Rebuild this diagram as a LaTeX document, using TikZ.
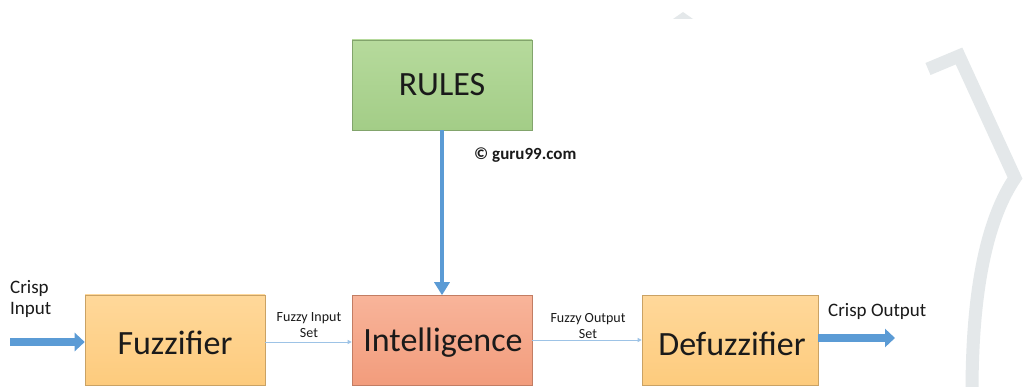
\documentclass[tikz,border=0pt]{standalone}
\usepackage{fontspec}
\setmainfont{Carlito}
\usetikzlibrary{arrows.meta}
\definecolor{arrowblue}{HTML}{5B9BD5}
\definecolor{thinblue}{HTML}{9DC3E6}
\definecolor{txt}{HTML}{1A1A1A}
\definecolor{wm}{HTML}{E4E8EA}
\definecolor{greentop}{HTML}{B6DA9C}
\definecolor{greenbot}{HTML}{A3CD87}
\definecolor{orangetop}{HTML}{FFD89A}
\definecolor{orangebot}{HTML}{FDCB7D}
\definecolor{salmontop}{HTML}{F8B49A}
\definecolor{salmonbot}{HTML}{F29C7C}
\tikzset{
  block/.style={draw=#1!80!black, line width=0.6pt, inner sep=0pt,
    minimum width=180pt, minimum height=90pt},
  greenblock/.style={block=greenbot, top color=greentop, bottom color=greenbot},
  orangeblock/.style={block=orangebot, top color=orangetop, bottom color=orangebot},
  salmonblock/.style={block=salmonbot, top color=salmontop, bottom color=salmonbot},
  boxtext/.style={font=\fontsize{34}{40}\selectfont, text=txt},
  smalllbl/.style={font=\fontsize{14}{16}\selectfont, text=txt, align=center},
  sidelbl/.style={font=\fontsize{19}{20}\selectfont, text=txt, align=left, inner sep=0pt},
  marklbl/.style={font=\bfseries\fontsize{17}{20}\selectfont, text=txt, inner sep=0pt},
  thickarrow/.style={arrowblue, line width=8pt, -{Triangle[length=10pt,width=18pt]}},
  downarrow/.style={arrowblue, line width=4pt, -{Triangle[length=13pt,width=15pt]}},
  thinarrow/.style={thinblue, line width=0.9pt, -{Triangle[length=4pt,width=4pt]}},
}
\begin{document}
\begin{tikzpicture}[x=1pt,y=-1pt]
\useasboundingbox (0,0) rectangle (1029,387);
\fill[white] (0,0) rectangle (1029,387);
% watermark shapes
\draw[wm, line width=13pt, line join=miter] (928,69) -- (959,56) -- (1015,178) .. controls (990,215) and (972,280) .. (972,392);
\fill[wm] (673,19) -- (683,12) -- (693,19) -- cycle;
% boxes
\node[greenblock] (rules) at (442,85) {};
\node[boxtext] at (rules.center) {RULES};
\node[orangeblock] (fuzz) at (175,340) {};
\node[boxtext] at (175,343) {Fuzzifier};
\node[salmonblock] (intel) at (442,340.5) {};
\node[boxtext] at (443,343) {Intelligence};
\node[orangeblock, minimum width=176pt] (defuzz) at (730,340.5) {};
\node[boxtext] at (732,344) {Defuzzifier};
% free ends
\coordinate (cin) at (10,342);
\coordinate (cout) at (895,338);
% connectors
\draw[thickarrow] (cin) -- (fuzz.west |- cin);
\draw[thickarrow] (defuzz.east |- cout) -- (cout);
\draw[downarrow] (rules.south) -- (intel.north);
\draw[thinarrow] (fuzz.east |- 0,342) -- (intel.west |- 0,342);
\draw[thinarrow] (intel.east |- 0,340) -- (defuzz.west |- 0,340);
% labels
\node[sidelbl, anchor=north west] (crispin) at (10,280) {Crisp\\[1pt]Input};
\node[sidelbl, anchor=west] (crispout) at (828,311) {Crisp Output};
\node[smalllbl] (fin) at (309,325) {Fuzzy Input\\Set};
\node[smalllbl] (fout) at (588,326) {Fuzzy Output\\Set};
\node[marklbl, anchor=west] (mark) at (474,155) {© guru99.com};
\end{tikzpicture}
\end{document}
